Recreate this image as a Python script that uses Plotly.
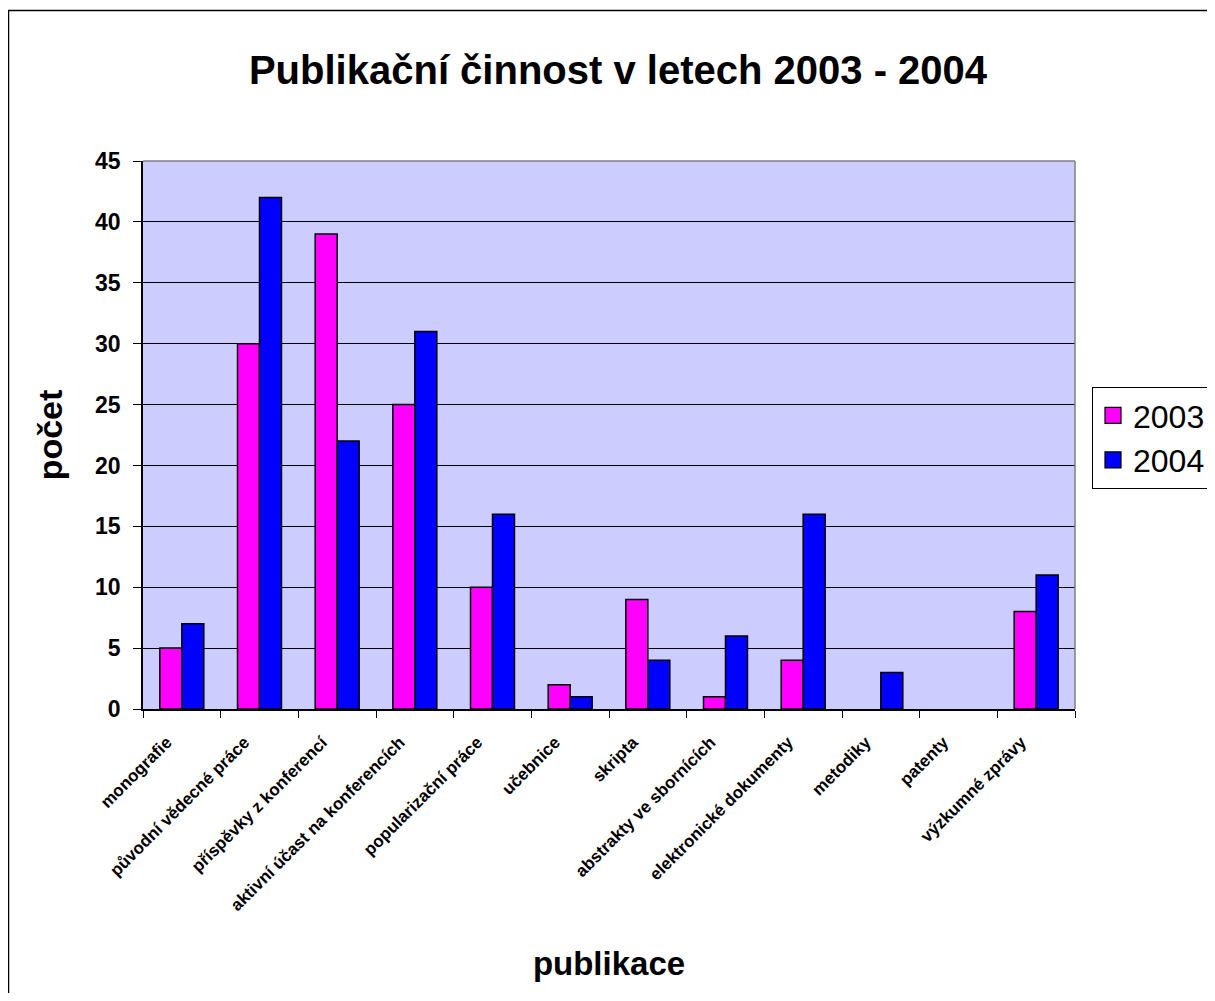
import plotly.graph_objects as go

categories = [
    "monografie", "původní vědecné práce", "příspěvky z konferencí",
    "aktivní účast na konferencích", "popularizační práce", "učebnice",
    "skripta", "abstrakty ve sbornících", "elektronické dokumenty",
    "metodiky", "patenty", "výzkumné zprávy",
]
values_2003 = [5, 30, 39, 25, 10, 2, 9, 1, 4, None, None, 8]
values_2004 = [7, 42, 22, 31, 16, 1, 4, 6, 16, 3, None, 11]
y_ticks = [0, 5, 10, 15, 20, 25, 30, 35, 40, 45]

# page body has an 8px margin, so figure coords = screen coords - 8
W, H = 1207, 985
L, R, T, B = 135, 1067, 153, 701  # plot area in figure pixels


def px_x(p):
    return (p - L) / (R - L)


def px_y(p):
    return (B - p) / (B - T)


FONT = "Arial, Liberation Sans, sans-serif"
MAGENTA = "#ff00ff"
BLUE = "#0000ff"

fig = go.Figure()
fig.add_trace(go.Bar(
    x=categories, y=values_2003, name="2003", showlegend=False,
    marker=dict(color=MAGENTA, line=dict(color="black", width=1.5)),
))
fig.add_trace(go.Bar(
    x=categories, y=values_2004, name="2004", showlegend=False,
    marker=dict(color=BLUE, line=dict(color="black", width=1.5)),
))
# legend entries with larger square keys
for name, col in [("2003", MAGENTA), ("2004", BLUE)]:
    fig.add_trace(go.Scatter(
        x=[None], y=[None], mode="markers", name=name,
        marker=dict(symbol="square", size=16, color=col,
                    line=dict(color="black", width=1.2)),
    ))

fig.update_layout(
    width=W, height=H,
    margin=dict(l=L, r=W - R, t=T, b=H - B, autoexpand=False),
    paper_bgcolor="white", plot_bgcolor="#ccccff",
    font=dict(family=FONT, color="black"),
    barmode="group", bargap=0.434, bargroupgap=0,
    title=dict(text="<b>Publikační činnost v letech 2003 - 2004</b>",
               x=610 / W, xanchor="center", y=1 - 62 / H, yanchor="middle",
               font=dict(size=40)),
    legend=dict(x=px_x(1084), y=px_y(379), xanchor="left", yanchor="top",
                bordercolor="black", borderwidth=1, bgcolor="white",
                font=dict(size=32), itemsizing="trace",
                tracegroupgap=0),
    showlegend=True,
)

fig.update_xaxes(
    title=dict(text="<b>publikace</b>", font=dict(size=33), standoff=38),
    tickangle=-45, tickfont=dict(size=17, family=FONT),
    tickvals=categories, ticktext=[f"<b>{c}</b>" for c in categories],
    ticklabelstandoff=15, ticklabelshift=-15,
    ticks="outside", tickson="boundaries", ticklen=7, tickcolor="black",
    showline=True, linecolor="black", linewidth=1.5, showgrid=False,
    range=[-0.5, len(categories) - 0.5],
)
fig.update_yaxes(
    title=dict(text="<b>počet</b>", font=dict(size=34), standoff=22),
    range=[0, 45], tickvals=y_ticks,
    ticktext=[f"<b>{v}</b>" for v in y_ticks],
    tickfont=dict(size=23), ticks="outside", ticklen=8, tickcolor="black",
    ticklabelstandoff=8,
    showline=True, linecolor="black", linewidth=1.5,
    showgrid=True, gridcolor="black", gridwidth=1, zeroline=False,
)

# gray plot border on top/right
fig.add_shape(type="line", xref="paper", yref="paper", x0=0, x1=1, y0=1, y1=1,
              line=dict(color="#808080", width=1.5))
fig.add_shape(type="line", xref="paper", yref="paper", x0=1, x1=1, y0=0, y1=1,
              line=dict(color="#808080", width=1.5))
# outer chart frame (right and bottom edges fall outside the view)
fig.add_shape(type="rect", xref="paper", yref="paper",
              x0=px_x(0.5), x1=px_x(1230), y0=px_y(1020), y1=px_y(2.5),
              line=dict(color="black", width=1.5), layer="below")

fig.write_html("out.html")
